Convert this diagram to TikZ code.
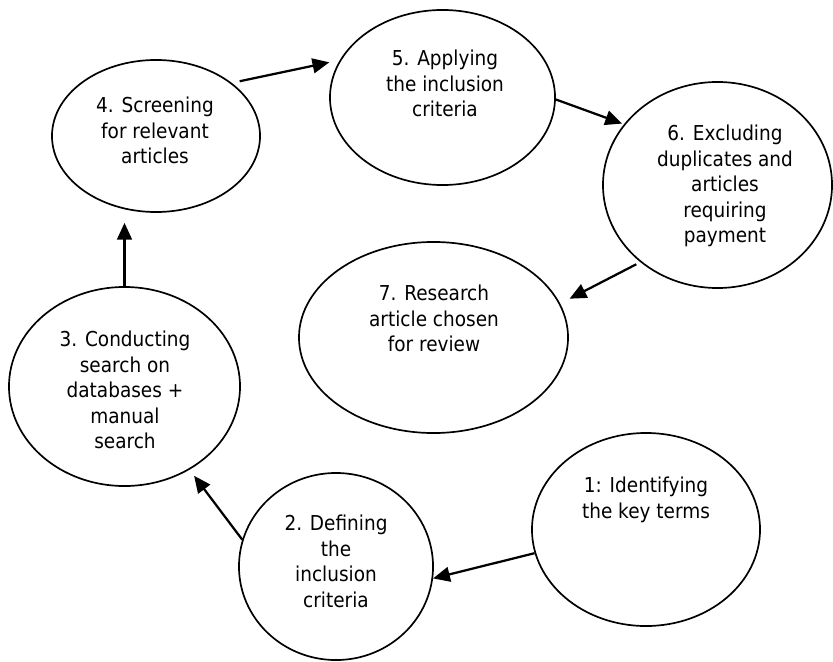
\documentclass[tikz,border=0pt]{standalone}
\usepackage{fontspec}
\setmainfont{DejaVu Sans}[FakeStretch=0.9]
\usetikzlibrary{shapes.geometric,arrows.meta}

\begin{document}
\begin{tikzpicture}[x=0.025cm, y=-0.025cm,
    stage/.style={ellipse, draw, line width=1.2pt, inner sep=0pt},
    stageText/.style={anchor=north, inner sep=0pt, align=center, font=\fontsize{14.6pt}{18.1pt}\selectfont},
    flow/.style={line width=1.6pt, -{Triangle[length=0.42cm, width=0.37cm]}}]
  \useasboundingbox (0,0) rectangle (833,662);
  % stages
  \node[stage, minimum width=5.7cm, minimum height=4.825cm] (e1) at (646,529.5) {};
  \node[stage, minimum width=4.85cm, minimum height=4.675cm] (e2) at (336,566.5) {};
  \node[stage, minimum width=5.775cm, minimum height=4.975cm] (e3) at (124.5,386.5) {};
  \node[stage, minimum width=5.2cm, minimum height=3.8cm] (e4) at (156,136) {};
  \node[stage, minimum width=5.625cm, minimum height=4.375cm] (e5) at (442.5,97.5) {};
  \node[stage, minimum width=5.725cm, minimum height=5.15cm] (e6) at (717.5,185) {};
  \node[stage, minimum width=6.725cm, minimum height=4.775cm] (e7) at (433.5,337.5) {};
  % texts
  \node[stageText] (t1) at (646,477) {1: Identifying\\the key terms};
  \node[stageText] (t2) at (336,515) {2. Defining\\the\\inclusion\\criteria};
  \node[stageText] (t3) at (125,331) {3. Conducting\\search on\\databases +\\manual\\search};
  \node[stageText] (t4) at (155,97) {4. Screening\\for relevant\\articles};
  \node[stageText] (t5) at (445,50) {5. Applying\\the inclusion\\criteria};
  \node[stageText] (t6) at (725,125) {6. Excluding\\duplicates and\\articles\\requiring\\payment};
  \node[stageText] (t7) at (434,285) {7. Research\\article chosen\\for review};
  % arrows
  \draw[flow] (e1.192) -- (e2.-7);
  \draw[flow, shorten >=5.4pt] (e2.164) -- (e3.-52);
  \draw[flow, shorten >=7.1pt] (e3.north) -- (e3.north |- e4.south);
  \draw[flow, shorten <=5.7pt, shorten >=7.6pt] (e4.35) -- (e5.160);
  \draw[flow, shorten >=1.4pt] (e5.-1) -- (e6.147);
  \draw[flow, shorten <=3.2pt, shorten >=7.5pt] (e6.225) -- (e7.15);
\end{tikzpicture}
\end{document}
